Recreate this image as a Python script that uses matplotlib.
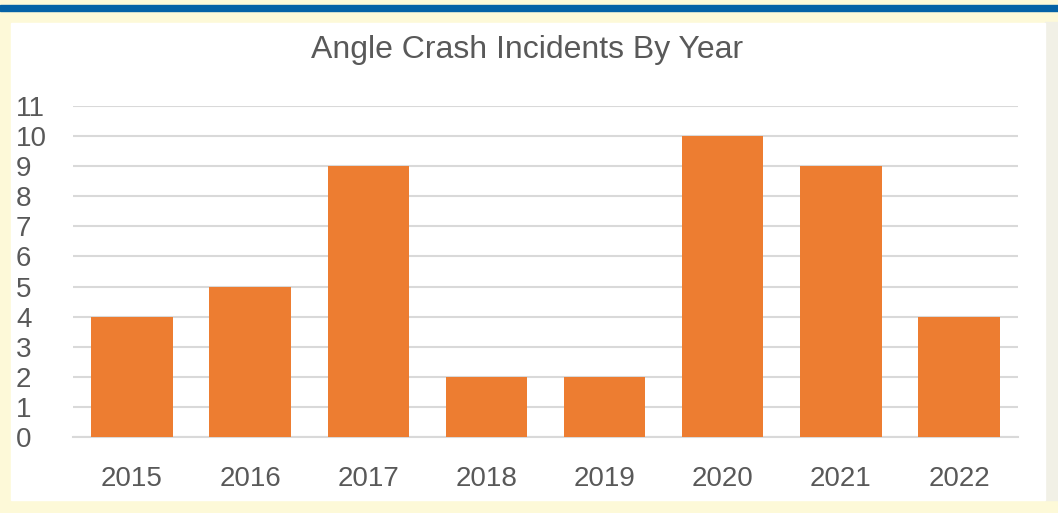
import matplotlib.pyplot as plt
from matplotlib.patches import Rectangle

years = ["2015", "2016", "2017", "2018", "2019", "2020", "2021", "2022"]
incidents = [4, 5, 9, 2, 2, 10, 9, 4]

plt.rcParams["font.family"] = ["Liberation Sans", "DejaVu Sans"]

fig = plt.figure(figsize=(10.58, 5.13), dpi=100, facecolor="#fdf9d8")
W, H = 1058, 513

# white card with blue band on top
fig.patches.append(Rectangle((0, 1 - 11 / H), 1, 6 / H, transform=fig.transFigure,
                             color="#0562a6", zorder=-1))
fig.patches.append(Rectangle((1045 / W, 13 / H), 13 / W, 1 - 35 / H, transform=fig.transFigure,
                             color="#f1f0e6", zorder=-1))
fig.patches.append(Rectangle((11 / W, 13 / H), 1034 / W, 1 - 36 / H, transform=fig.transFigure,
                             color="white", zorder=-1))

ax = fig.add_axes([73 / W, 1 - 437 / H, 945 / W, 331 / H])
ax.set_facecolor("none")
ax.bar(range(len(years)), incidents, width=0.69, color="#ed7d31", zorder=3)

ax.set_xlim(-0.5, len(years) - 0.5)
ax.set_ylim(0, 11)
ax.set_yticks(range(0, 12))
ax.set_xticks(range(len(years)))
ax.set_xticklabels(years)
ax.grid(axis="y", color="#d9d9d9", linewidth=1.5, zorder=0)
for s in ["top", "right", "left"]:
    ax.spines[s].set_visible(False)
ax.spines["bottom"].set_color("#d9d9d9")
ax.spines["bottom"].set_linewidth(1.5)
ax.tick_params(axis="both", length=0, labelsize=20, colors="#595959")
ax.tick_params(axis="x", pad=21)
ax.tick_params(axis="y", pad=41)
for lbl in ax.get_yticklabels():
    lbl.set_horizontalalignment("left")

fig.text(0.498, 1 - 50 / H, "Angle Crash Incidents By Year", ha="center", va="center",
         fontsize=23, color="#595959")

fig.savefig("out.png", dpi=100, facecolor=fig.get_facecolor())
